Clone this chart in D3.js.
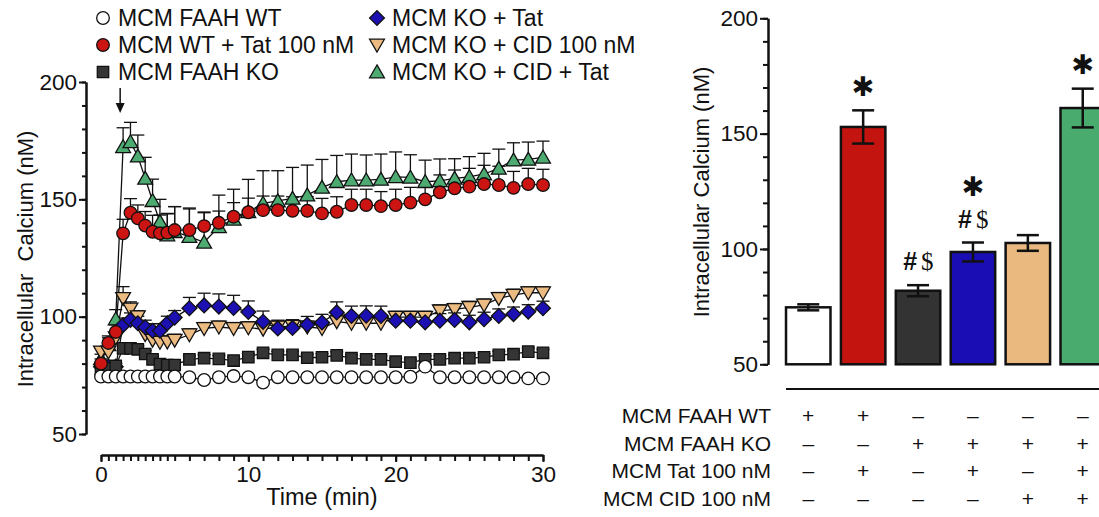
<!DOCTYPE html>
<html>
<head>
<meta charset="utf-8">
<script src="https://cdn.jsdelivr.net/npm/d3@7"></script>
<style>
body { margin: 0; background: #fff; }
text { font-family: "Liberation Sans", Arial, sans-serif; fill: #111; }
</style>
</head>
<body>
<div id="chart-area"></div>
<script>
// time course (min)
var times = [0, 0.5, 1, 1.5, 2, 2.5, 3, 3.5, 4, 4.5, 5,
	6, 7, 8, 9, 10, 11, 12, 13, 14, 15, 16, 17, 18, 19, 20,
	21, 22, 23, 24, 25, 26, 27, 28, 29, 30];

var wtValues = [74.5, 74.5, 74.5, 74.5, 74.5, 74.5, 74.5, 74.5, 74.5, 74.5, 74.5,
	74.2, 73, 74.2, 74.7, 74.2, 71.9, 74.2, 74.2, 74.2, 74.2, 74.2, 74.2, 74.2, 74.2, 74.2,
	74.4, 78.7, 74.2, 74.2, 74.2, 74.2, 74.2, 74.2, 73.7, 73.7];
var wtErrors = [0.8, 0.8, 0.8, 0.8, 0.8, 0.8, 0.8, 0.8, 0.8, 0.8, 0.8,
	0.8, 0.8, 0.8, 0.8, 0.8, 0.8, 0.8, 0.8, 0.8, 0.8, 0.8, 0.8, 0.8, 0.8, 0.8,
	0.8, 0.8, 0.8, 0.8, 0.8, 0.8, 0.8, 0.8, 0.8, 0.8];

var wtTatValues = [80, 88.8, 93.5, 135.5, 144.3, 141.9, 138.8, 136.2, 135.5, 135.8, 136.9,
	136.9, 138.6, 140, 142.6, 144.5, 145.4, 145.4, 145.1, 145.1, 144, 144.7, 147.6, 147.6, 147.1, 147.6,
	148.6, 150, 153, 154.7, 155.4, 156.5, 156.1, 154.9, 156.5, 156.1];
var wtTatErrors = [2, 3, 3, 6, 6, 5.7, 6, 7, 7.8, 8, 10,
	9, 6, 5, 6, 6, 6, 6, 6, 6, 6.4, 6.4, 6.7, 6.7, 6.2, 6.7,
	6.5, 6.1, 7.4, 7.8, 7.8, 8, 8, 7, 6.7, 6.7];

var koValues = [78, 78, 79, 86.5, 86.5, 86.1, 84.1, 81.8, 79.8, 79.4, 79.4,
	81.8, 82.3, 82, 81.3, 82.8, 84.6, 83.7, 83.7, 82.5, 82.7, 83.5, 82.3, 81.8, 81.8, 80.8,
	80.4, 81.8, 81.8, 82.3, 82.3, 82.7, 83.7, 84, 85.1, 84.6];
var koErrors = [1, 1, 1, 1.5, 1.5, 1.5, 1.5, 1.5, 1.5, 1.5, 1.5,
	1.5, 1.5, 1.5, 1.5, 1.5, 1.5, 1.5, 1.5, 1.5, 1.5, 1.5, 1.5, 1.5, 1.5, 1.5,
	1.5, 1.5, 1.5, 1.5, 1.5, 1.5, 1.5, 1.5, 1.5, 1.5];

var koTatValues = [78.7, 78.7, 78.7, 96.4, 98.6, 97.2, 95.5, 94, 94, 97.2, 99.6,
	103.6, 104.8, 104.3, 103.7, 102, 97.8, 95, 95.2, 96.6, 97.5, 101.8, 100.3, 100.4, 100.3, 98.3,
	98.3, 97.6, 98.3, 98.6, 97.6, 98.9, 100.3, 101.1, 102.1, 103.6];
var koTatErrors = [1.5, 1.5, 1.5, 3, 3, 3, 3, 3, 3, 3, 3,
	4.6, 5.2, 5.4, 5.4, 4.7, 4.6, 3.5, 3.5, 3.5, 3.5, 4.5, 4.2, 4.2, 4.2, 3,
	3, 3, 3, 3, 3, 3, 3, 3, 3, 3];

var koCidValues = [85, 85, 91, 107.8, 103.3, 100, 92.4, 90, 89.1, 89.3, 90,
	92.3, 95, 95.6, 95, 95.3, 94.7, 95.6, 96, 95.6, 95, 97.9, 97.2, 97.2, 97.2, 99.8,
	99.8, 99.8, 102.5, 103.1, 104, 105, 107.8, 109.2, 110.2, 110.2];
var koCidErrors = [2, 2, 2, 5, 3, 2.5, 2.5, 2.5, 2.5, 2.5, 2.5,
	2.5, 2.5, 2.5, 2.5, 2.5, 2.5, 2.5, 2.5, 2.5, 2.5, 2.5, 2.5, 2.5, 2.5, 2.5,
	2.5, 2.5, 2.5, 2.5, 2.5, 2.5, 2.5, 2.5, 2.5, 2.5];

var koCidTatValues = [82, 88, 99, 172.4, 174.5, 168.4, 158.9, 149.4, 140.5, 134.8, 136.2,
	134.1, 131.7, 138.3, 141.5, 144.7, 148.3, 149.3, 150.4, 151.8, 155.1, 157.5, 158.2, 158.2, 158.5, 159.6,
	159.4, 157.5, 157.9, 158.9, 159.6, 160.8, 163.2, 166.7, 167, 167.9];
var koCidTatErrors = [2, 3, 4, 8.1, 8.3, 9, 9, 9.2, 9.5, 9.2, 10.7,
	12.2, 12.6, 13.5, 12.8, 13.8, 13.9, 12.9, 13.2, 12.8, 11.9, 11.2, 11.1, 10.7, 10.8, 10.6,
	9.6, 9.2, 9.3, 8.4, 8.6, 8.8, 8.2, 7.4, 7.4, 6.9];

var tatTime = 1.3;
var xTickLabels = [0, 10, 20, 30];
var yTickLabels = [50, 100, 150, 200];

// bar graph
var barGroups = ["wt", "wtTat", "ko", "koTat", "koCid", "koCidTat"];
var barValues = [74.7, 152.9, 81.9, 98.7, 102.6, 161.1];
var barErrors = [1.3, 7.2, 2.4, 4.1, 3.4, 8.4];
var barMarks = [[], ["*"], ["#$"], ["#$", "*"], [], ["*"]];

var rowLabels = ["MCM FAAH WT", "MCM FAAH KO", "MCM Tat 100 nM", "MCM CID 100 nM"];
var rowSigns = [
	["+", "+", "\u2013", "\u2013", "\u2013", "\u2013"],
	["\u2013", "\u2013", "+", "+", "+", "+"],
	["\u2013", "+", "\u2013", "+", "\u2013", "+"],
	["\u2013", "\u2013", "\u2013", "\u2013", "+", "+"]
];

var svg = d3.select("#chart-area")
	.append("svg")
		.attr("width", 1099)
		.attr("height", 517);

// ---------- left: time course ----------
var x = d3.scaleLinear().domain([0, 30]).range([101, 543]);
var y = d3.scaleLinear().domain([50, 200]).range([434, 82]);

var left = svg.append("g");

// Y axis (minor + major)
left.append("g")
	.attr("transform", "translate(86,0)")
	.call(d3.axisLeft(y).tickValues(d3.range(50, 201, 10)).tickSize(4).tickSizeOuter(0).tickFormat(""));
left.append("g")
	.attr("transform", "translate(86,0)")
	.call(d3.axisLeft(y).tickValues(yTickLabels).tickSize(7).tickSizeOuter(0).tickPadding(2));

// X axis
left.append("g")
	.attr("transform", "translate(0,455)")
	.call(d3.axisBottom(x).tickValues(times).tickSize(6).tickSizeOuter(0).tickFormat(""));
left.append("g")
	.attr("transform", "translate(0,455)")
	.call(d3.axisBottom(x).tickValues(xTickLabels).tickSize(7).tickSizeOuter(0).tickPadding(4));

left.append("text")
	.attr("transform", "translate(33,259) rotate(-90)")
	.attr("text-anchor", "middle")
	.attr("font-size", "22px")
	.attr("xml:space", "preserve")
	.text("Intracellular  Calcium (nM)");

left.append("text")
	.attr("x", 322)
	.attr("y", 505)
	.attr("text-anchor", "middle")
	.attr("font-size", "23.5px")
	.text("Time (min)");

// arrow marking Tat addition
left.append("line")
	.attr("x1", x(tatTime)).attr("x2", x(tatTime))
	.attr("y1", 88).attr("y2", 104)
	.attr("stroke", "#111").attr("stroke-width", 1.5);
left.append("path")
	.attr("d", "M" + (x(tatTime) - 4.5) + ",103 L" + (x(tatTime) + 4.5) + ",103 L" + x(tatTime) + ",113 Z")
	.attr("fill", "#111");

var series = [
	{name: "MCM KO + CID + Tat", values: koCidTatValues, errors: koCidTatErrors, type: d3.symbolTriangle, size: 95, rot: 0, dy: 1.5, fill: "#4dab72"},
	{name: "MCM KO + CID 100 nM", values: koCidValues, errors: koCidErrors, type: d3.symbolTriangle, size: 95, rot: 180, dy: -1.5, fill: "#ebbb82"},
	{name: "MCM KO + Tat", values: koTatValues, errors: koTatErrors, type: d3.symbolSquare, size: 110, rot: 45, dy: 0, fill: "#1c10b3"},
	{name: "MCM FAAH KO", values: koValues, errors: koErrors, type: d3.symbolSquare, size: 130, rot: 0, dy: 0, fill: "#353535"},
	{name: "MCM WT + Tat 100 nM", values: wtTatValues, errors: wtTatErrors, type: d3.symbolCircle, size: 125, rot: 0, dy: 0, fill: "#cc1512"},
	{name: "MCM FAAH WT", values: wtValues, errors: wtErrors, type: d3.symbolCircle, size: 125, rot: 0, dy: 0, fill: "#ffffff"}
];

var line = d3.line()
	.x(function(d){ return x(d.t); })
	.y(function(d){ return y(d.v); });

series.forEach(function(s){
	s.points = times.map(function(t, i){ return {t: t, v: s.values[i], e: s.errors[i]}; });
});

// lines and error bars under the symbols
series.forEach(function(s){
	left.append("path")
		.datum(s.points)
		.attr("d", line)
		.attr("fill", "none")
		.attr("stroke", "#111")
		.attr("stroke-width", 1.3);

	var eb = left.append("g").attr("stroke", "#111").attr("stroke-width", 1.3);
	eb.selectAll("line.v").data(s.points).enter().append("line")
		.attr("x1", function(d){ return x(d.t); })
		.attr("x2", function(d){ return x(d.t); })
		.attr("y1", function(d){ return y(d.v); })
		.attr("y2", function(d){ return y(d.v + d.e); });
	eb.selectAll("line.c").data(s.points).enter().append("line")
		.attr("x1", function(d){ return x(d.t) - 6.5; })
		.attr("x2", function(d){ return x(d.t) + 6.5; })
		.attr("y1", function(d){ return y(d.v + d.e); })
		.attr("y2", function(d){ return y(d.v + d.e); });
});

function symbolPath(s){
	return d3.symbol().type(s.type).size(s.size)();
}

series.forEach(function(s){
	left.append("g").selectAll("path")
		.data(s.points)
		.enter().append("path")
			.attr("d", symbolPath(s))
			.attr("transform", function(d){
				return "translate(" + x(d.t) + "," + (y(d.v) + s.dy) + ") rotate(" + s.rot + ")";
			})
			.attr("fill", s.fill)
			.attr("stroke", "#111")
			.attr("stroke-width", 1.3);
});

// legend
var legendOrder = ["MCM FAAH WT", "MCM WT + Tat 100 nM", "MCM FAAH KO",
	"MCM KO + Tat", "MCM KO + CID 100 nM", "MCM KO + CID + Tat"];
legendOrder.forEach(function(name, i){
	var s = series.find(function(d){ return d.name === name; });
	var col = Math.floor(i / 3), row = i % 3;
	var lx = col === 0 ? 103 : 377;
	var ly = 18 + row * 27;
	left.append("path")
		.attr("d", symbolPath(s))
		.attr("transform", "translate(" + lx + "," + (ly + s.dy) + ") rotate(" + s.rot + ")")
		.attr("fill", s.fill)
		.attr("stroke", "#111")
		.attr("stroke-width", 1.3);
	left.append("text")
		.attr("x", lx + 15)
		.attr("y", ly + 8)
		.attr("font-size", "23px")
		.text(name);
});

// ---------- right: bar graph ----------
var y2 = d3.scaleLinear().domain([50, 200]).range([364.3, 18.3]);
var x2 = d3.scaleBand().domain(barGroups)
	.range([780.8, 780.8 + 6 * 54.9])
	.paddingInner(0.19).paddingOuter(0.095);
var barColors = ["#ffffff", "#c41410", "#333333", "#1a0db4", "#e9b980", "#4aab6e"];

var right = svg.append("g");

right.append("g")
	.attr("transform", "translate(768,0)")
	.call(d3.axisLeft(y2).tickValues(d3.range(50, 201, 10)).tickSize(5).tickSizeOuter(0).tickFormat(""));
right.append("g")
	.attr("transform", "translate(768,0)")
	.call(d3.axisLeft(y2).tickValues(yTickLabels).tickSize(8).tickSizeOuter(0).tickPadding(2));

svg.selectAll(".domain, .tick line").attr("stroke", "#111").attr("stroke-width", 2);
svg.selectAll(".tick text").attr("font-size", "22.5px").attr("fill", "#111");

right.append("text")
	.attr("transform", "translate(709,192) rotate(-90)")
	.attr("text-anchor", "middle")
	.attr("font-size", "22px")
	.text("Intracellular Calcium (nM)");

right.selectAll("rect")
	.data(barGroups)
	.enter().append("rect")
		.attr("x", function(d){ return x2(d); })
		.attr("y", function(d, i){ return y2(barValues[i]); })
		.attr("width", x2.bandwidth())
		.attr("height", function(d, i){ return y2(50) - y2(barValues[i]); })
		.attr("fill", function(d, i){ return barColors[i]; })
		.attr("stroke", "#111")
		.attr("stroke-width", 2.5);

barGroups.forEach(function(g, i){
	var cx = x2(g) + x2.bandwidth() / 2;
	var hi = y2(barValues[i] + barErrors[i]), lo = y2(barValues[i] - barErrors[i]);
	var eb = right.append("g").attr("stroke", "#111").attr("stroke-width", 2.5);
	eb.append("line").attr("x1", cx).attr("x2", cx).attr("y1", lo).attr("y2", hi);
	eb.append("line").attr("x1", cx - 11).attr("x2", cx + 11).attr("y1", hi).attr("y2", hi);
	eb.append("line").attr("x1", cx - 11).attr("x2", cx + 11).attr("y1", lo).attr("y2", lo);

	barMarks[i].forEach(function(m, k){
		var cy = hi - 24 - k * 32;
		if (m === "*") {
			right.append("text")
				.attr("x", cx).attr("y", cy)
				.attr("text-anchor", "middle")
				.attr("dominant-baseline", "central")
				.attr("font-size", "27px")
				.style("font-family", "'DejaVu Sans', sans-serif")
				.text("\u2731");
		} else {
			right.append("text")
				.attr("x", cx - 1).attr("y", cy + 9)
				.attr("text-anchor", "end")
				.attr("font-size", "25px")
				.attr("font-weight", "bold")
				.text("#");
			right.append("text")
				.attr("x", cx + 3).attr("y", cy + 9)
				.attr("text-anchor", "start")
				.attr("font-size", "25px")
				.style("font-family", "'Liberation Serif', serif")
				.text("$");
		}
	});
});

right.append("line")
	.attr("x1", 786).attr("x2", 1099)
	.attr("y1", 389).attr("y2", 389)
	.attr("stroke", "#111").attr("stroke-width", 2);

// treatment table
rowLabels.forEach(function(label, r){
	var ty = 415 + r * 27.5;
	right.append("text")
		.attr("x", 771).attr("y", ty + 8)
		.attr("text-anchor", "end")
		.attr("font-size", "21px")
		.text(label);
	rowSigns[r].forEach(function(sg, c){
		right.append("text")
			.attr("x", x2(barGroups[c]) + x2.bandwidth() / 2)
			.attr("y", ty + 8)
			.attr("text-anchor", "middle")
			.attr("font-size", "21px")
			.text(sg);
	});
});
</script>
</body>
</html>
